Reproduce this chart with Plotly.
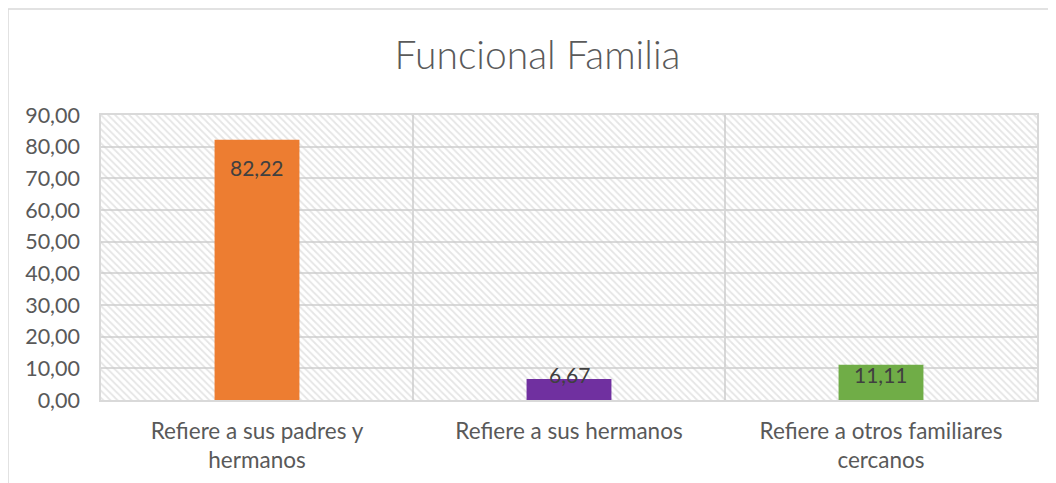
import plotly.graph_objects as go

categories = ["Refiere a sus padres y<br>hermanos", "Refiere a sus hermanos", "Refiere a otros familiares<br>cercanos"]
values = [82.22, 6.67, 11.11]
colors = ["#ED7D31", "#7030A0", "#70AD47"]
y_max = 90
tick_vals = [0, 10, 20, 30, 40, 50, 60, 70, 80, 90]

FONT = "Lato"
W, H = 1048, 475          # page has an 8px body margin
L, R, T, B = 93, 19, 107, 83
PW, PH = W - L - R, H - T - B

x_pos = list(range(len(categories)))
boundaries = [i + 0.5 for i in x_pos[:-1]]

fig = go.Figure()

# hatched plot-area background
fig.add_trace(go.Bar(
    x=[(len(categories) - 1) / 2], y=[y_max], width=[len(categories)],
    marker=dict(color="rgba(0,0,0,0)", line=dict(width=0),
                pattern=dict(shape="\\", fgcolor="#CCCCCC", bgcolor="rgba(0,0,0,0)", size=5, solidity=0.35)),
    hoverinfo="skip", showlegend=False,
))

fig.add_trace(go.Bar(
    x=x_pos, y=values, width=0.272,
    marker=dict(color=colors, line=dict(width=0)),
    hovertext=categories, showlegend=False,
))

# data labels (inside end, kept above the axis for short bars)
label_font = dict(family=FONT, size=21, color="#404040")
for xi, v in zip(x_pos, values):
    fig.add_annotation(x=xi, y=max(v - 8.8, 8.2), text=f"{v:.2f}".replace(".", ","),
                       showarrow=False, xanchor="center", yanchor="middle", font=label_font)

fig.update_layout(
    width=W, height=H,
    margin=dict(l=L, r=R, t=T, b=B, autoexpand=False),
    paper_bgcolor="white", plot_bgcolor="white",
    separators=",.",
    barmode="overlay",
    title=dict(text="Funcional Familia", x=529.5 / W, xanchor="center", xref="container",
               y=1 - 47 / H, yanchor="middle", yref="container",
               font=dict(family=FONT, size=39, color="#5A5A5A", weight=300)),
    xaxis=dict(range=[-0.5, len(categories) - 0.5], tickvals=x_pos, ticktext=categories,
               showgrid=False, zeroline=False, automargin=False,
               minor=dict(tickvals=boundaries, showgrid=True, gridcolor="#D9D9D9", gridwidth=1.5, ticks=""),
               showline=True, linecolor="#D9D9D9", linewidth=1.5, mirror=True,
               ticks="", ticklabelstandoff=10,
               tickfont=dict(family=FONT, size=22.5, color="#595959")),
    yaxis=dict(range=[0, y_max], tickvals=tick_vals, tickformat=".2f",
               showgrid=True, gridcolor="#D9D9D9", gridwidth=1.5, automargin=False,
               showline=True, linecolor="#D9D9D9", linewidth=1.5, mirror=True,
               zeroline=False, ticks="", ticklabelstandoff=15,
               tickfont=dict(family=FONT, size=21.5, color="#595959")),
    shapes=[dict(type="rect", xref="paper", yref="paper",
                 x0=(0 - L) / PW, x1=(W + 20 - L) / PW,
                 y0=-(B + 30) / PH, y1=1 + (T - 1) / PH,
                 line=dict(color="#D9D9D9", width=1.5), layer="below")],
)

fig.write_html("out.html")
